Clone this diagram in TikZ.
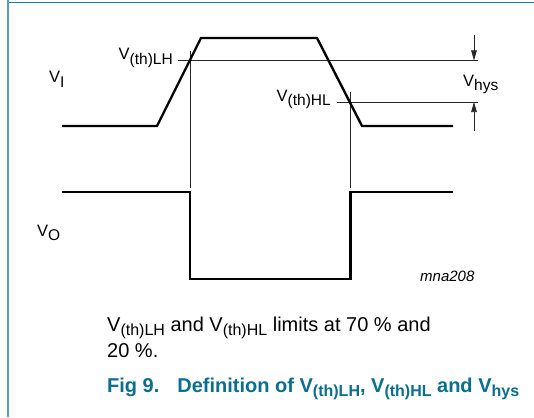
\documentclass[tikz,border=0pt]{standalone}
\usepackage{fontspec}
\setmainfont{Liberation Sans}
\usetikzlibrary{arrows.meta}
\definecolor{frameteal}{HTML}{1A7FA0}
\definecolor{framelight}{HTML}{5A9CBC}
\definecolor{titleteal}{HTML}{0A6E8E}
\newcommand{\lsub}[2][0.82]{\raisebox{-0.3em}{\scalebox{#1}{#2}}}
\newcommand{\csub}[1]{\raisebox{-0.22em}{\scalebox{0.8}{#1}}}
\begin{document}
\begin{tikzpicture}[x=1pt,y=-1pt,
  waveln/.style={line width=2.4pt, line join=miter},
  thinln/.style={line width=0.7pt, black!85},
  lbl/.style={inner sep=0pt, font=\fontsize{16.5}{18}\selectfont},
  captxt/.style={inner sep=0pt, font=\fontsize{20}{23}\selectfont},
  arr/.style={thinln, -{Triangle[length=10pt,width=5.5pt]}}]
\useasboundingbox (0,0) rectangle (534,417);
% frame
\draw[line width=1.2pt, frameteal] (8,2.5) -- (534,2.5);
\draw[line width=2pt, framelight] (8,0) -- (8,417);
% coordinates
\coordinate (a0) at (62,126);
\coordinate (a1) at (157,126);
\coordinate (a2) at (201,38);
\coordinate (a3) at (317,38);
\coordinate (a4) at (362,126);
\coordinate (a5) at (453,126);
\coordinate (b0) at (62,192);
\coordinate (b1) at (190,192);
\coordinate (b2) at (190,279);
\coordinate (b3) at (350.5,279);
\coordinate (b4) at (350.5,192);
\coordinate (b5) at (453,192);
\coordinate (lhs) at (178,60.5);
\coordinate (lhe) at (478,60.5);
\coordinate (hls) at (337,102);
\coordinate (hle) at (478,102);
\coordinate (v1t) at (190,51);
\coordinate (v1b) at (190,188);
\coordinate (v2t) at (350.5,92);
\coordinate (v2b) at (350.5,188);
\coordinate (ad0) at (474,35);
\coordinate (ad1) at (474,60.5);
\coordinate (au0) at (474,131);
\coordinate (au1) at (474,102);
% thin lines
\draw[thinln] (lhs) -- (lhe);
\draw[thinln] (hls) -- (hle);
\draw[thinln] (v1t) -- (v1b);
\draw[thinln] (v2t) -- (v2b);
\draw[arr] (ad0) -- (ad1);
\draw[arr] (au0) -- (au1);
% waveforms
\draw[waveln] (a0) -- (a1) -- (a2) -- (a3) -- (a4) -- (a5);
\draw[waveln] (b0) -- (b1) -- (b2) -- (b3) -- (b4) -- (b5);
% labels
\node[lbl, anchor=base west] (vi) at (49,83) {V\lsub[0.94]{I}};
\node[lbl, anchor=base east] (vlh) at (173,60) {V\lsub[0.94]{(th)LH}};
\node[lbl, anchor=base east] (vhl) at (331,101) {V\lsub[0.94]{(th)HL}};
\node[lbl, anchor=base west] (vhys) at (463,86) {V\lsub[0.94]{hys}};
\node[lbl, anchor=base west] (vo) at (37,236) {V\lsub[0.94]{O}};
\node[inner sep=0pt, anchor=base west, font=\fontsize{15}{17}\selectfont\itshape] (mna) at (420,281) {mna208};
% caption
\node[captxt, anchor=base west] (c1) at (107,331) {V\csub{(th)LH} and V\csub{(th)HL} limits at 70 \% and};
\node[captxt, anchor=base west] (c2) at (107,357) {20 \%.};
\node[inner sep=0pt, anchor=base west, text=titleteal, font=\fontsize{20}{23}\selectfont\bfseries] (t1) at (107,392) {Fig 9.\hspace{18pt}Definition of V\csub{(th)LH}, V\csub{(th)HL} and V\csub{hys}};
\end{tikzpicture}
\end{document}
